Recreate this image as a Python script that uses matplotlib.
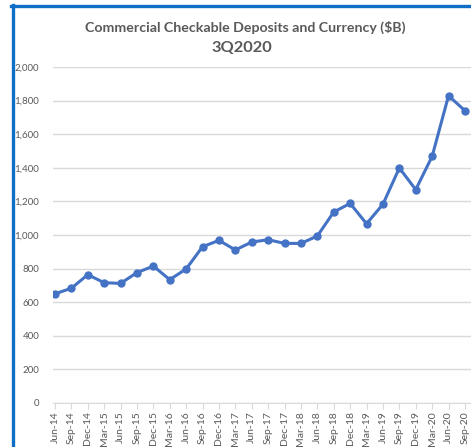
import matplotlib
matplotlib.use("Agg")
import matplotlib.pyplot as plt
from matplotlib.lines import Line2D

categories = ["Jun-14", "Sep-14", "Dec-14", "Mar-15", "Jun-15", "Sep-15", "Dec-15",
              "Mar-16", "Jun-16", "Sep-16", "Dec-16", "Mar-17", "Jun-17", "Sep-17",
              "Dec-17", "Mar-18", "Jun-18", "Sep-18", "Dec-18", "Mar-19", "Jun-19",
              "Sep-19", "Dec-19", "Mar-20", "Jun-20", "Sep-20"]
values = [650, 683, 764, 716, 712, 776, 815, 734, 798, 930, 968, 911, 958, 972,
          950, 950, 994, 1137, 1188, 1067, 1183, 1399, 1270, 1468, 1829, 1740]
y_ticks = [0, 200, 400, 600, 800, 1000, 1200, 1400, 1600, 1800, 2000]

W, H = 471, 447
fig = plt.figure(figsize=(W / 100, H / 100), dpi=100)
fig.patch.set_facecolor("white")

left_px, right_px, top_px, bottom_px = 53, 471, 67, 403
ax = fig.add_axes([left_px / W, 1 - bottom_px / H, (right_px - left_px) / W,
                   (bottom_px - top_px) / H])

x = list(range(len(categories)))
ax.plot(x, values, color="#4472C4", linewidth=2.2, marker="o", markersize=5,
        markerfacecolor="#4472C4", markeredgecolor="#4472C4", zorder=3)

ax.set_ylim(0, 2000)
ax.set_xlim(-0.12, 25.37)
ax.set_yticks(y_ticks)
ax.set_yticklabels([f"{v:,}" for v in y_ticks])
ax.set_xticks(x)
ax.set_xticklabels(categories, rotation=90)

ax.grid(axis="y", color="#D9D9D9", linewidth=1)
ax.set_axisbelow(True)
for s in ["top", "right", "left"]:
    ax.spines[s].set_visible(False)
ax.spines["bottom"].set_color("#D9D9D9")
ax.tick_params(axis="y", length=0, labelsize=7, labelcolor="#595959", pad=10)
ax.tick_params(axis="x", length=4, color="#D9D9D9", labelsize=7.5, labelcolor="#595959", pad=2)
for lbl in ax.get_xticklabels() + ax.get_yticklabels():
    lbl.set_fontfamily("Lato")

fig.text(245 / W, 1 - 27 / H, "Commercial Checkable Deposits and Currency ($B)",
         ha="center", va="center", fontsize=10.2, fontweight="bold",
         color="#595959", family="Lato")
fig.text(242 / W, 1 - 48 / H, "3Q2020", ha="center", va="center",
         fontsize=11.8, fontweight="bold", color="#595959", family="Lato")

border = "#0F6FC6"
fig.add_artist(Line2D([11 / W, 1], [1 - 6 / H, 1 - 6 / H], color=border,
                      linewidth=2.4, transform=fig.transFigure))
fig.add_artist(Line2D([12.5 / W, 12.5 / W], [0, 1 - 5 / H], color=border,
                      linewidth=2.4, transform=fig.transFigure))

fig.savefig("out.png", dpi=100)
